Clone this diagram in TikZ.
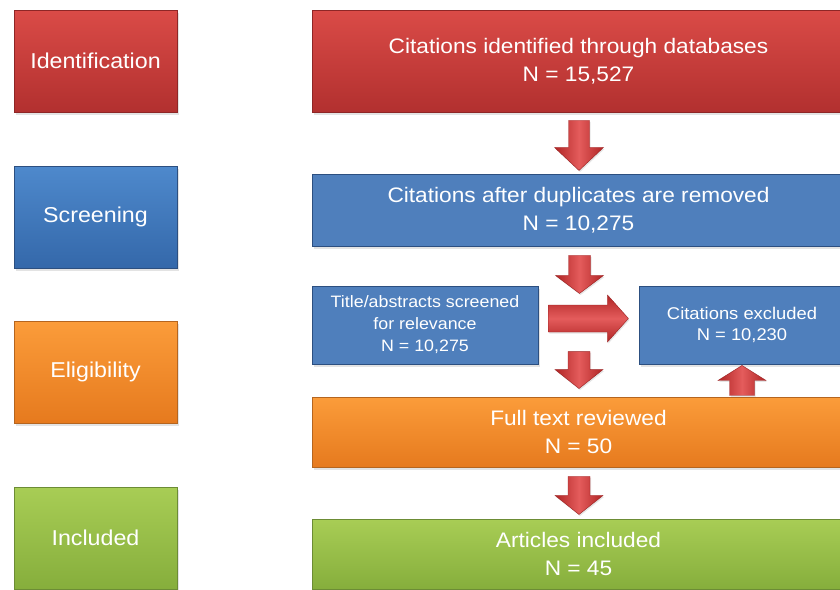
\documentclass[tikz,border=0pt]{standalone}
\usepackage{fontspec}
\setmainfont{Liberation Sans}[FakeStretch=1.08]
\usetikzlibrary{shadows,calc}
\definecolor{redT}{HTML}{DA4B47}
\definecolor{redD}{HTML}{B2302F}
\definecolor{redB}{HTML}{8E2626}
\definecolor{bluT}{HTML}{4E89CC}
\definecolor{bluD}{HTML}{3468AA}
\definecolor{bluF}{HTML}{4F7FBC}
\definecolor{bluB}{HTML}{2C4F80}
\definecolor{orgT}{HTML}{FB9C3A}
\definecolor{orgD}{HTML}{E67A1E}
\definecolor{orgB}{HTML}{B5651F}
\definecolor{grnT}{HTML}{A8CD55}
\definecolor{grnD}{HTML}{86AE3C}
\definecolor{grnB}{HTML}{6C8C35}
\definecolor{arrD}{HTML}{B02525}
\definecolor{arrL}{HTML}{E45C5C}
\definecolor{arrB}{HTML}{9A2020}
\tikzset{
  base/.style={rectangle, text=white, align=center, inner sep=0pt, line width=0.9pt,
    drop shadow={opacity=0.22, shadow xshift=1.5pt, shadow yshift=-2.5pt}},
  redbox/.style={base, draw=redB, top color=redT, bottom color=redD},
  blubox/.style={base, draw=bluB, top color=bluT, bottom color=bluD},
  bluflat/.style={base, draw=bluB, fill=bluF},
  orgbox/.style={base, draw=orgB, top color=orgT, bottom color=orgD},
  grnbox/.style={base, draw=grnB, top color=grnT, bottom color=grnD},
  stage/.style={minimum width=163, minimum height=102, font=\fontsize{21.5}{26}\selectfont},
  mainbox/.style={minimum width=533, font=\fontsize{21}{28}\selectfont},
  blkarrow/.style={draw=arrB, line width=0.4pt, line join=miter,
    drop shadow={opacity=0.2, shadow xshift=1pt, shadow yshift=-1.5pt}},
  vshade/.style={left color=arrD, right color=arrD, middle color=arrL},
  hshade/.style={top color=arrD, bottom color=arrD, middle color=arrL},
}
% #1 top point, #2 length, #3 shaft half width, #4 head half width, #5 head length
\newcommand\downblock[5]{%
  \begin{scope}[shift={(#1)}]
  \path[blkarrow, vshade] (-#3,0) -- (#3,0) -- (#3,#2-#5) -- (#4,#2-#5) -- (0,#2)
    -- (-#4,#2-#5) -- (-#3,#2-#5) -- cycle;
  \end{scope}}
\newcommand\upblock[5]{%
  \begin{scope}[shift={(#1)}]
  \path[blkarrow, vshade] (-#3,0) -- (#3,0) -- (#3,{-(#2-#5)}) -- (#4,{-(#2-#5)}) -- (0,-#2)
    -- (-#4,{-(#2-#5)}) -- (-#3,{-(#2-#5)}) -- cycle;
  \end{scope}}
\newcommand\rightblock[5]{%
  \begin{scope}[shift={(#1)}]
  \path[blkarrow, hshade] (0,-#3) -- (#2-#5,-#3) -- (#2-#5,-#4) -- (#2,0)
    -- (#2-#5,#4) -- (#2-#5,#3) -- (0,#3) -- cycle;
  \end{scope}}
\begin{document}
\begin{tikzpicture}[x=1pt,y=-1pt]
\useasboundingbox (0,0) rectangle (840,589);
\clip (0,0) rectangle (840,589);
\fill[white] (0,0) rectangle (840,589);
% stage labels
\node[redbox, stage] (id) at (95.5,61) {\raisebox{-2pt}{Identification}};
\node[blubox, stage] (sc) at (95.5,217) {\raisebox{-2pt}{Screening}};
\node[orgbox, stage] (el) at (95.5,372) {\raisebox{-2pt}{Eligibility}};
\node[grnbox, stage] (in) at (95.5,538) {\raisebox{-2pt}{Included}};
% flow boxes
\node[redbox, mainbox, minimum height=102] (cid) at (578.5,61) {Citations identified through databases\\N = 15,527};
\node[bluflat, mainbox, minimum height=72] (dup) at (578.5,210) {Citations after duplicates are removed\\N = 10,275};
\node[bluflat, minimum width=226, minimum height=78, font=\fontsize{16.5}{22}\selectfont] (ta) at (425,325) {Title/abstracts screened\\for relevance\\N = 10,275};
\node[bluflat, minimum width=206, minimum height=78, font=\fontsize{17}{21}\selectfont] (exc) at (742,325) {Citations excluded\\N = 10,230};
\node[orgbox, mainbox, minimum height=70] (ft) at (578.5,432) {Full text reviewed\\N = 50};
\node[grnbox, mainbox, minimum height=70] (ai) at (578.5,554) {Articles included\\N = 45};
% block arrows
\coordinate (a1) at ($(cid.south)+(0.5,8)$);
\coordinate (a2) at ($(dup.south)+(1,9)$);
\coordinate (a3) at ($(ft.north)+(0.5,-45)$);
\coordinate (a4) at ($(ft.south)+(0.5,9)$);
\coordinate (ar) at ($(ta.east)+(10,-6.5)$);
\coordinate (au) at ($(exc.south)+(0,31)$);
\downblock{a1}{50}{10.5}{24.5}{23}
\downblock{a2}{38}{11}{24}{18}
\downblock{a3}{37}{11}{24}{19}
\downblock{a4}{38}{11}{24}{19}
\rightblock{ar}{80}{13.5}{23.5}{21}
\upblock{au}{30}{12.5}{24}{15}
\end{tikzpicture}
\end{document}
